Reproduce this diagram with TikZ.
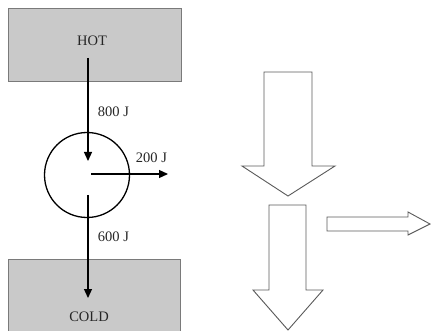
\documentclass[tikz,border=0pt]{standalone}
\usepackage{fontspec}
\setmainfont{Liberation Serif}
\usetikzlibrary{arrows.meta}
\definecolor{boxgray}{HTML}{C9C9C9}
\definecolor{boxedge}{HTML}{7A7A7A}
\definecolor{blockedge}{HTML}{5A5A5A}
\begin{document}
\begin{tikzpicture}[x=1pt,y=-1pt,
  reservoir/.style={draw=boxedge,fill=boxgray,line width=1pt,inner sep=0pt},
  flow/.style={line width=1.2pt,-{Triangle[length=9pt,width=8pt]}},
  lbl/.style={font=\fontsize{14.5}{16}\selectfont,inner sep=0pt,text=black!85},
  blockarrow/.style={draw=blockedge,fill=white,line width=0.9pt,line join=miter}]
\useasboundingbox (0,0) rectangle (431,331);
% reservoirs
\node[reservoir,minimum width=173pt,minimum height=73pt] (hot) at (94.5,45.5) {};
\node[lbl] (hottxt) at (92,41) {HOT};
\node[reservoir,minimum width=172pt,minimum height=80pt] (cold) at (94,299) {};
\node[lbl] (coldtxt) at (89,317) {COLD};
% engine
\node[draw,circle,line width=1.3pt,minimum size=85pt,inner sep=0pt] (engine) at (87,175) {};
% flows
\coordinate (a1s) at (88,58);
\coordinate (a1e) at (88,161);
\coordinate (a2s) at (91,174);
\coordinate (a2e) at (168,174);
\coordinate (a3s) at (88,195);
\coordinate (a3e) at (88,298);
\draw[flow] (a1s) -- (a1e);
\draw[flow] (a2s) -- (a2e);
\draw[flow] (a3s) -- (a3e);
\node[lbl] (l800) at (113.5,112) {800 J};
\node[lbl] (l200) at (151.5,158) {200 J};
\node[lbl] (l600) at (113.5,237) {600 J};
% block arrows
\draw[blockarrow] (264,72) -- (312,72) -- (312,166) -- (335,166) -- (288,196)
  -- (242,166) -- (264,166) -- cycle;
\draw[blockarrow] (269,205) -- (306,205) -- (306,290) -- (323,290) -- (288,330)
  -- (253,290) -- (269,290) -- cycle;
\draw[blockarrow] (327,217) -- (408,217) -- (408,212) -- (430,224) -- (408,235)
  -- (408,231) -- (327,231) -- cycle;
\end{tikzpicture}
\end{document}
